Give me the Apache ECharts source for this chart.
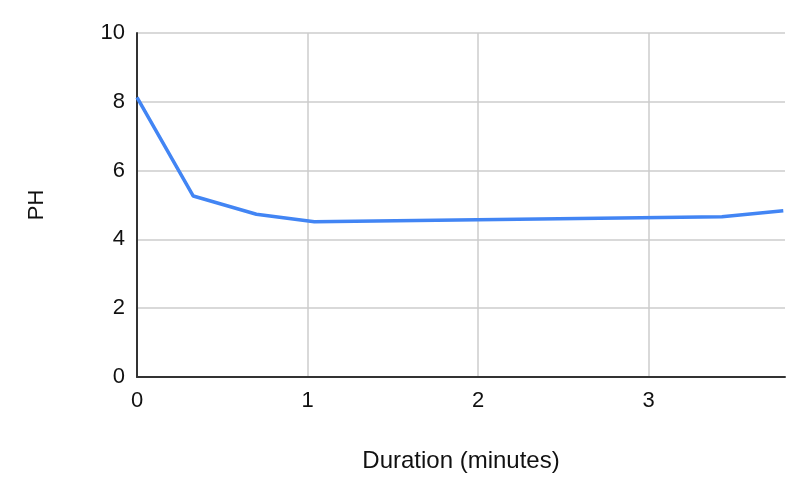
<!DOCTYPE html>
<html><head><meta charset="utf-8">
<script src="https://cdn.jsdelivr.net/npm/echarts@6/dist/echarts.min.js"></script>
<style>html,body{margin:0;padding:0;background:#fff}#c{width:806px;height:494px}</style>
</head><body><div id="c"></div>
<script>
const durations = [0, 0.33, 0.70, 1.04, 3.43, 3.79];
const phValues = [8.13, 5.26, 4.73, 4.51, 4.66, 4.83];
const xTicks = [0, 1, 2, 3];
const yTicks = [0, 2, 4, 6, 8, 10];

const chart = echarts.init(document.getElementById('c'), null, {renderer: 'canvas'});
const font = 'Liberation Sans, Arial, sans-serif';
chart.setOption({
  animation: false,
  grid: {left: 137, right: 21, top: 33, bottom: 117},
  xAxis: {
    type: 'value', min: 0, max: 3.8, interval: 1,
    name: 'Duration (minutes)', nameLocation: 'middle', nameGap: 72,
    nameTextStyle: {fontFamily: font, fontSize: 24, color: '#111'},
    axisLine: {lineStyle: {color: '#333', width: 2}},
    axisTick: {show: false},
    axisLabel: {fontFamily: font, fontSize: 22, color: '#111', margin: 13, showMaxLabel: false,
      formatter: v => xTicks.includes(v) ? String(v) : ''},
    splitLine: {show: true, showMaxLine: false, lineStyle: {color: '#ccc', width: 1.5}}
  },
  yAxis: {
    type: 'value', min: 0, max: 10, interval: 2,
    name: 'PH', nameLocation: 'middle', nameGap: 89, nameRotate: 90,
    nameTextStyle: {fontFamily: font, fontSize: 22, color: '#111'},
    axisLine: {show: true, lineStyle: {color: '#333', width: 2}},
    axisTick: {show: false},
    axisLabel: {fontFamily: font, fontSize: 22, color: '#111', margin: 12,
      formatter: v => yTicks.includes(v) ? String(v) : ''},
    splitLine: {show: true, lineStyle: {color: '#ccc', width: 1.5}}
  },
  series: [{
    type: 'line',
    data: durations.map((d, i) => [d, phValues[i]]),
    showSymbol: false,
    lineStyle: {color: '#4285f4', width: 3.5},
    itemStyle: {color: '#4285f4'}
  }]
});
</script></body></html>
